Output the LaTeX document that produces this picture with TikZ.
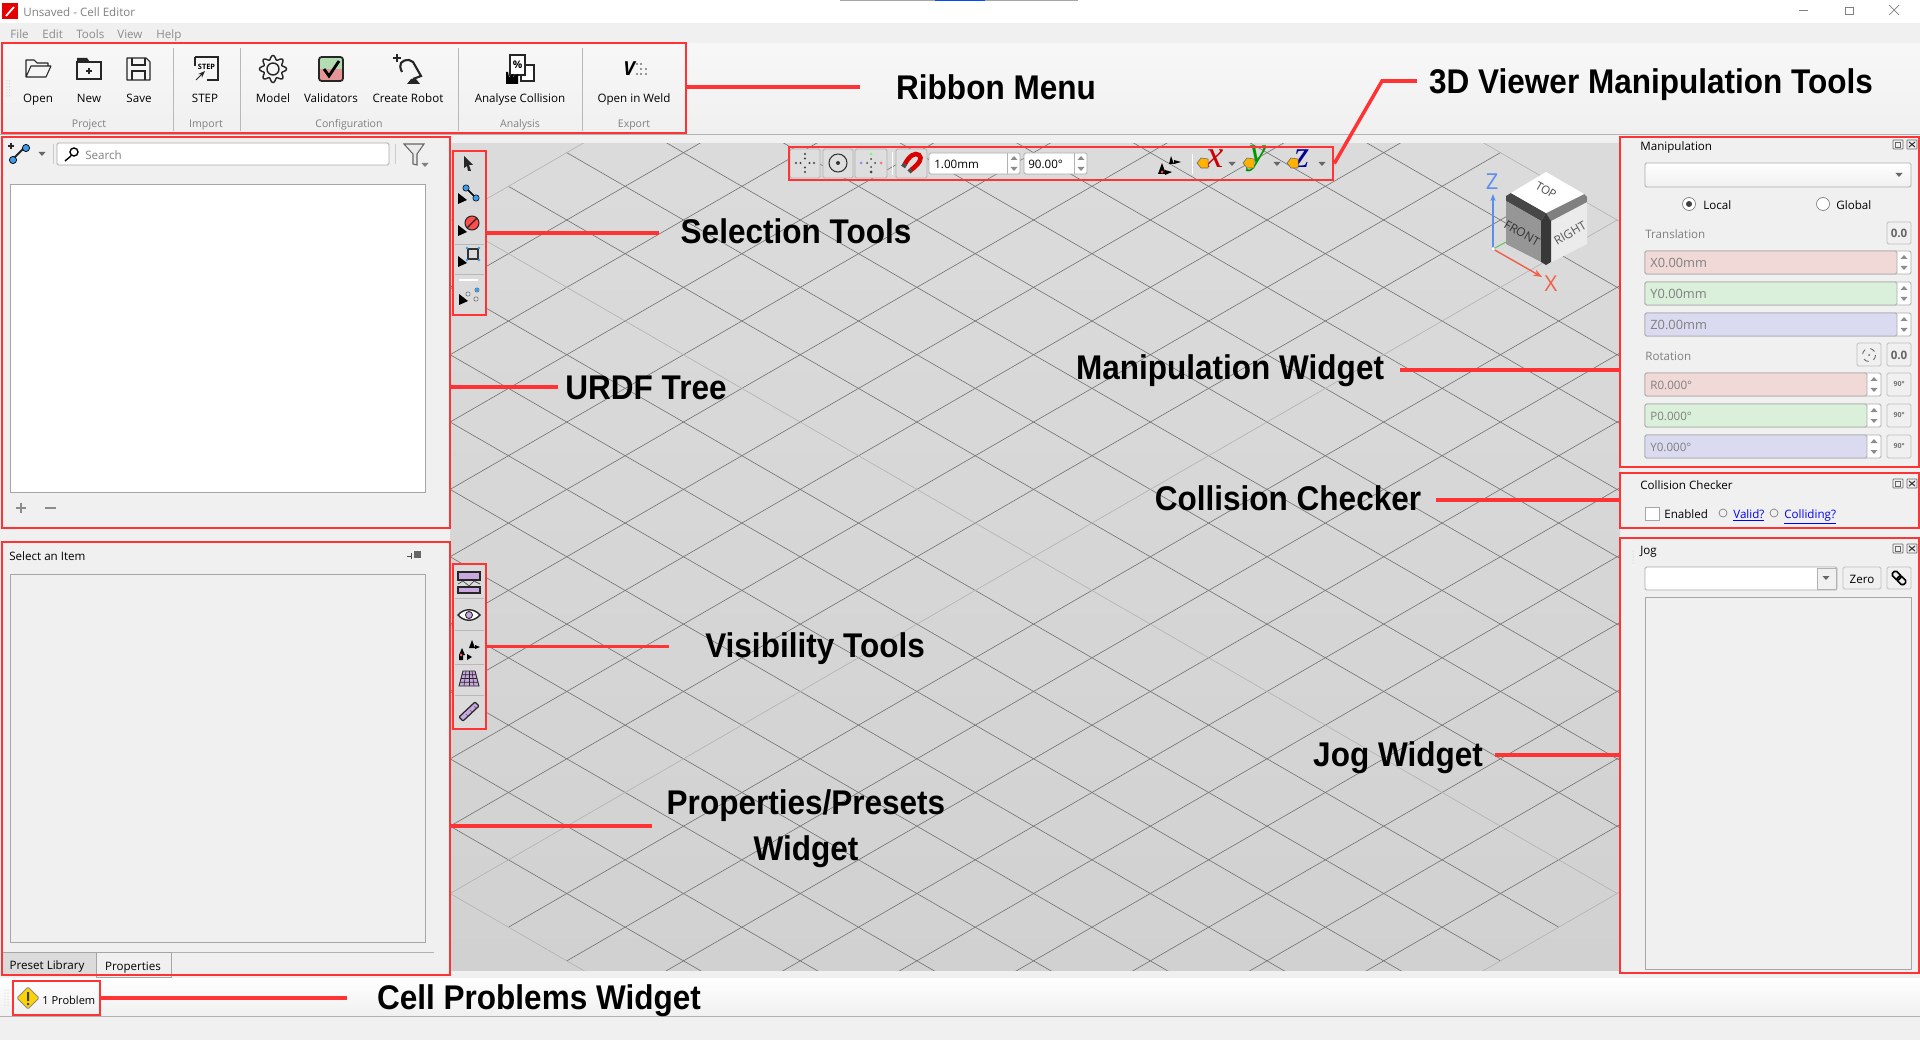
\documentclass[tikz,border=0pt]{standalone}
\usepackage{fontspec}
\setmainfont{Open Sans}
\newfontfamily\notefont[FakeStretch=0.92]{Liberation Sans}
\newfontfamily\axisfont{Liberation Serif}
\usetikzlibrary{positioning,arrows.meta,fit,calc}
\definecolor{panelbg}{HTML}{F0F0F0}
\definecolor{redmark}{HTML}{FF3333}
\definecolor{uigray}{HTML}{ABABAB}
\definecolor{dimtext}{HTML}{808080}
\definecolor{redfield}{HTML}{F0D9D7}
\definecolor{greenfield}{HTML}{DAF0DA}
\definecolor{bluefield}{HTML}{DADAF0}
\definecolor{lilac}{HTML}{C9A8E0}
\definecolor{dotblue}{HTML}{3D9BE9}
\definecolor{axisz}{HTML}{5B8DEF}
\definecolor{axisx}{HTML}{F0604A}
\newcommand{\uifont}{\fontsize{6.6}{8}\selectfont}
\newcommand{\dntip}[3][black!60]{\fill[#1] (#2-3.5,#3-2) -- (#2+3.5,#3-2) -- (#2,#3+2) -- cycle;}
\newcommand{\uptip}[3][black!45]{\fill[#1] (#2-3.5,#3+2) -- (#2+3.5,#3+2) -- (#2,#3-2) -- cycle;}
\newcommand{\cornertip}[2]{\fill[black] (#1-4,#2-7) -- (#1+5,#2) -- (#1-4,#2+4) -- cycle;}
\tikzset{
  redbox/.style={draw=redmark,line width=1.5pt,inner sep=0pt,fit={#1}},
  redline/.style={draw=redmark,line width=2pt},
  note/.style={font=\notefont\fontsize{19.5}{23}\selectfont\bfseries,inner sep=0pt,text height=14pt,text depth=0pt},
  uitext/.style={font=\uifont,inner sep=0pt,text height=4.7pt,text depth=0pt},
  uileft/.style={uitext,anchor=west},
  dimleft/.style={uileft,text=dimtext},
  field/.style={draw=uigray,line width=0.5pt,rounded corners=0.8pt},
  button/.style={draw=black!25,fill=panelbg,line width=0.5pt,rounded corners=0.8pt},
  toolbtn/.style={draw=black!30,fill=black!13,line width=0.5pt,rounded corners=0.8pt},
  icon/.style={line width=0.6pt,draw=black!85},
  gridline/.style={draw=black!55,line width=0.35pt},
  gridedge/.style={draw=black!30,line width=0.35pt}
}
\begin{document}
\begin{tikzpicture}[x=0.02cm,y=-0.02cm]
  \useasboundingbox (0,0) rectangle (1920,1040);
  \fill[panelbg] (0,0) rectangle (1920,1040);
  % window title and menu
  \fill[white] (0,0) rectangle (1920,23);
  \draw[black!35,line width=0.4pt] (840,0.5) -- (1078,0.5);
  \draw[blue!70!cyan,line width=1pt] (935,0.5) -- (985,0.5);
  \fill[red!90!black] (2,3) rectangle (18,19);
  \draw[white,line width=1pt] (6,16) -- (14,7);
  \node (title) at (23,12) [uileft,text=dimtext] {Unsaved - Cell Editor};
  \draw[black!50,line width=0.4pt] (1799,10) -- (1808,10);
  \draw[black!50,line width=0.4pt] (1845,7) rectangle (1853,14);
  \draw[black!50,line width=0.4pt] (1889,5) -- (1899,15) (1899,5) -- (1889,15);
  \foreach \mx/\mtxt in {10/File,42/Edit,76/Tools,117/View,156/Help}
    \node (menu\mtxt) at (\mx,34) [dimleft,text=black!45] {\mtxt};
  % ribbon
  \shade[top color=white!97!black,bottom color=panelbg] (0,44) rectangle (1920,133);
  \draw[black!30,line width=0.5pt] (0,134) -- (1920,134);
  \foreach \sx in {173,240,458,582}
    \draw[black!28,line width=0.5pt] (\sx,48) -- (\sx,131);
  \foreach \lx/\ltxt [count=\li] in {38/Open,89/New,139/Save,205/STEP,273/Model,331/Validators,408/Create Robot,520/Analyse Collision,634/Open in Weld}
    \node (rib\li) at (\lx,98) [uitext] {\ltxt};
  \foreach \lx/\ltxt in {89/Project,206/Import,349/Configuration,520/Analysis,634/Export}
    \node (grp\ltxt) at (\lx,123) [uitext,text=dimtext,font=\fontsize{6}{7.5}\selectfont] {\ltxt};
  \foreach \dy in {81,84,...,96} \fill[black!25] (7,\dy) circle (0.5) (9.5,\dy) circle (0.5);
  % open
  \draw[icon,line join=round] (26,77) -- (26,60) -- (34,60) -- (37,63) -- (48,63) -- (48,66) (26,77) -- (46,77) -- (51,66) -- (31,66) -- cycle;
  % new
  \draw[icon] (77,62) rectangle (101,79);
  \fill[black!85] (77,58) -- (87,58) -- (90,62) -- (77,63) -- cycle;
  \draw[icon] (86,71) -- (92,71) (89,68) -- (89,74);
  % save
  \draw[icon,line join=round] (127,58) -- (146,58) -- (150,62) -- (150,80) -- (127,80) -- cycle;
  \draw[icon] (132,58) -- (132,65) -- (145,65) -- (145,58) (132,80) -- (132,71) -- (145,71) -- (145,80);
  % step
  \draw[icon] (195,57) -- (218,57) -- (218,80) -- (207,80) (195,66) -- (195,57);
  \node (stepicon) at (206.5,67) [inner sep=0pt,font=\fontsize{4.2}{5}\selectfont\bfseries] {STEP};
  \draw[icon,-{Stealth[length=4pt]}] (196,80) -- (205,71);
  % model
  \draw[icon,line width=0.8pt] plot[domain=0:360,samples=145,smooth] ({273+(11.5+2*cos(8*\x))*cos(\x)},{69+(11.5+2*cos(8*\x))*sin(\x)}) -- cycle;
  \draw[icon,line width=0.8pt] (273,69) circle (6);
  % validators
  \fill[green!55!black!30] (319,57) rectangle (343,69);
  \fill[red!35!white!90!black] (319,69) rectangle (343,81);
  \draw[black!85,line width=1pt,rounded corners=1.5pt] (319,57) rectangle (343,81);
  \draw[black,line width=1.6pt] (324,69) -- (329,76) -- (339,61);
  % create robot
  \draw[icon,line width=0.8pt] (393,58) -- (401,58) (397,54) -- (397,62);
  \draw[icon,line width=1.2pt] (402,72) .. controls (398,64) and (401,60) .. (409,60) -- (413,62) -- (421,76) -- (413,79);
  \fill[black!85] (407,84) -- (411,79) -- (416,79) -- (420,84) -- cycle;
  % analyse collision
  \draw[icon,fill=white] (521,65) rectangle (534,81);
  \draw[icon,fill=white] (510,55) rectangle (525,75);
  \node (pcticon) at (517.5,65) [inner sep=0pt,font=\fontsize{6}{7}\selectfont\bfseries] {\%};
  \fill[black] (506,84) -- (506,72) -- (508,72) -- (509,77) -- (513,74) -- (513,77) -- (518,74) -- (518,84) -- cycle;
  % open in weld
  \node (weldicon) at (629,69) [inner sep=0pt,font=\fontsize{11}{12}\selectfont\bfseries\itshape] {V};
  \foreach \wx/\wy in {637/64,641/64,641/69,646/69,637/74,641/74,646/74}
    \fill[black!80] (\wx,\wy) circle (0.9);
  % urdf tree panel
  \draw[icon,line width=1.2pt] (12,160) -- (24,148);
  \fill[dotblue,draw=black] (13,160) circle (3.6) (26,148) circle (3.6);
  \draw[icon,line width=0.7pt] (8,146) -- (14,146) (11,143) -- (11,149);
  \dntip{42}{154}
  \draw[black!20,line width=0.5pt] (53,144) -- (53,164) (395,144) -- (395,164);
  \draw[field,fill=white] (57,143) rectangle (389,165);
  \draw[black,line width=0.8pt] (74,152) circle (4) (71,156) -- (65,161);
  \node (searchtxt) at (85,155) [dimleft] {Search};
  \draw[black!60,fill=black!8,line width=0.6pt] (404,144) -- (424,144) -- (417,154) -- (417,165) -- (413,164) -- (413,154) -- cycle;
  \dntip[black!50]{425}{165}
  \draw[draw=black!35,fill=white,line width=0.5pt] (10,184) rectangle (425,492);
  \draw[black!45,line width=1pt] (16,508) -- (26,508) (21,503) -- (21,513) (45,508) -- (56,508);
  % properties panel
  \node (selecttxt) at (9,556) [uileft] {Select an Item};
  \draw[black!70,line width=0.5pt] (407,556) -- (412,556) (411,553) -- (411,559);
  \fill[black!60] (414,551) rectangle (421,558);
  \draw[draw=black!35,fill=panelbg,line width=0.5pt] (10,574) rectangle (425,942);
  \draw[black!30,line width=0.5pt] (171,952) -- (434,952);
  \draw[draw=black!35,fill=black!14,line width=0.4pt] (2,975) -- (2,952) -- (96,952) -- (96,975);
  \draw[draw=black!35,fill=panelbg,line width=0.4pt] (96,977) -- (96,952) -- (171,952) -- (171,977) -- cycle;
  \node (presettab) at (47,965) [uitext] {Preset Library};
  \node (proptab) at (133,966) [uitext] {Properties};
  % status bar
  \shade[top color=white,bottom color=panelbg] (0,978) rectangle (1920,1016);
  \draw[black!30,line width=0.5pt] (0,1016) -- (1920,1016);
  \foreach \dy in {990,993,...,1005} \fill[black!25] (5,\dy) circle (0.5) (8,\dy) circle (0.5);
  \draw[draw=black!45,fill=yellow!70!orange,line width=0.5pt,rounded corners=0.6pt] (28,987) -- (39,998) -- (28,1009) -- (17,998) -- cycle;
  \fill[black!75] (27,992) rectangle (29,1001) (27,1003) rectangle (29,1005);
  \node (problemtxt) at (42,1000) [uileft,font=\fontsize{6.3}{8}\selectfont] {1 Problem};
  % 3d viewer
  \shade[top color=black!14,bottom color=black!18] (450,144) rectangle (1620,970);
  \begin{scope}
    \clip (450,144) rectangle (1620,970);
    \foreach \n in {-2,-1,...,6,8,9,...,16}
      \draw[gridline] ({1267+(-7-\n)*58.35},{220+(\n-7)*33.675}) -- ({1267+(13-\n)*58.35},{220+(\n+13)*33.675});
    \foreach \n in {-6,-5,...,2,4,5,...,12}
      \draw[gridline] ({1267+(\n+3)*58.35},{220+(\n-3)*33.675}) -- ({1267+(\n-17)*58.35},{220+(\n+17)*33.675});
    \foreach \n in {-3,7,17}
      \draw[gridedge] ({1267+(-7-\n)*58.35},{220+(\n-7)*33.675}) -- ({1267+(13-\n)*58.35},{220+(\n+13)*33.675});
    \foreach \n in {-7,3,13}
      \draw[gridedge] ({1267+(\n+3)*58.35},{220+(\n-3)*33.675}) -- ({1267+(\n-17)*58.35},{220+(\n+17)*33.675});
  \end{scope}
  % viewer toolbar
  \foreach \tx/\tw in {790/30,823/30,855/32,896/31}
    \draw[toolbtn] (\tx,149) rectangle ++(\tw,29);
  \foreach \ang in {0,90,180,270} {
    \fill[black!75] ($(805,163)+(\ang:4.5)$) circle (1.1);
    \fill[black!75] ($(805,163)+(\ang:9)$) circle (1.1);
  }
  \draw[black!80,line width=0.6pt] (838,163) circle (9);
  \fill[black!80] (838,163) circle (2);
  \fill[green!55] (871,154) circle (1.5);
  \fill[black!75] (871,159) circle (1) (871,167) circle (1) (867,163) circle (1) (875,163) circle (1) (871,172) circle (1.5);
  \fill[blue!45] (861,163) circle (1.5);
  \fill[red!55] (881,163) circle (1.5);
  \draw[white,line width=0.5pt] (892,152) -- (892,175);
  \draw[red!85!black,line width=2.6pt] (905,164) .. controls (909,156) and (915,152) .. (919,155) .. controls (923,158) and (919,164) .. (911,170);
  \draw[black!70,line width=2.6pt] (903,167) -- (905,164) (909,172) -- (911,170);
  \draw[field,fill=white] (929,153) rectangle (1020,174);
  \draw[field,fill=white] (1024,153) rectangle (1087,174);
  \draw[black!30,line width=0.4pt] (1007,153) -- (1007,174) (1074,153) -- (1074,174);
  \foreach \ax in {1014,1081} {
    \uptip{\ax}{158}
    \dntip[black!45]{\ax}{169}
  }
  \node (stepval) at (934,164) [uileft] {1.00mm};
  \node (angval) at (1028,164) [uileft] {90.00°};
  \fill[black] (1158,174) -- (1162,163) -- (1166,174) -- cycle (1165,170) -- (1172,172) -- (1165,175) -- cycle (1171,156) -- (1174,164) -- (1169,164) -- cycle (1174,160) -- (1181,162) -- (1174,164) -- cycle;
  \fill[red!70] (1162,172) circle (1.5);
  \draw[white,line width=0.5pt] (1192,154) -- (1192,174);
  \foreach \hx/\gx/\ilt/\ic in {1204/1215/x/red!80!black,1250/1258/y/green!60!black,1294/1302/z/blue!60!black} {
    \node (ax\ilt) at (\gx,159) [inner sep=0pt,text=\ic,font=\axisfont\fontsize{22}{22}\selectfont\itshape] {\ilt};
    \fill[orange!60!yellow,draw=black!60,line width=0.3pt] (\hx-7,163) -- (\hx-3,158) -- (\hx+4,159) -- (\hx+4,168) -- (\hx-3,168) -- cycle;
  }
  \dntip{1232}{164}
  \dntip{1277}{164}
  \dntip{1322}{164}
  % view cube
  \fill[black!8] (1546,172) -- (1587,197) -- (1587,244) -- (1546,265) -- (1506,244) -- (1506,196) -- cycle;
  \fill[black!72] (1511,193) -- (1546,213) -- (1541,221) -- (1506,201) -- (1506,196) -- cycle;
  \fill[black!50] (1584,194) -- (1546,213) -- (1551,221) -- (1587,202) -- (1587,197) -- cycle;
  \fill[black!41] (1506,201) -- (1541,221) -- (1541,262) -- (1506,244) -- cycle;
  \fill[black!78] (1541,221) -- (1546,213) -- (1551,221) -- (1551,262) -- (1546,265) -- (1541,262) -- cycle;
  \fill[white] (1546,172) -- (1584,194) -- (1546,213) -- (1511,193) -- cycle;
  \node (cubetop) at (1546,190) [rotate=-30,inner sep=0pt,text=black!70,font=\fontsize{6.5}{8}\selectfont] {TOP};
  \node (cubefront) at (1522,233) [rotate=-30,inner sep=0pt,text=black!80,font=\fontsize{6.8}{8}\selectfont] {FRONT};
  \node (cuberight) at (1570,233) [rotate=30,inner sep=0pt,text=black!65,font=\fontsize{6.8}{8}\selectfont] {RIGHT};
  \coordinate (origin) at (1493,249);
  \coordinate (zend) at (1493,194);
  \coordinate (xend) at (1542,277);
  \coordinate (yend) at (1506,242);
  \draw[-{Stealth[length=4pt]},axisz,line width=0.7pt] (origin) -- (zend);
  \draw[-{Stealth[length=5pt]},axisx,line width=0.8pt] (origin) -- (xend);
  \draw[green!60!black!60,line width=0.6pt] (origin) -- (yend);
  \fill[white,draw=black!25,line width=0.3pt] (origin) circle (2);
  \node (zlabel) at (1492,182) [inner sep=0pt,text=axisz,font=\fontsize{12.5}{14}\selectfont] {Z};
  \node (xlabel) at (1551,284) [inner sep=0pt,text=axisx,font=\fontsize{12.5}{14}\selectfont] {X};
  % selection tools
  \fill[black!14] (454,152) rectangle (485,314);
  \draw[black!28,line width=0.4pt] (455,244) -- (484,244) (455,274) -- (484,274);
  \draw[white,line width=0.6pt] (459,280) -- (478,280);
  \fill[black!85] (464,156) -- (473,165) -- (469,165) -- (471,171) -- (468,171) -- (467,166) -- (464,168) -- cycle;
  \draw[black,line width=0.9pt] (466,188) -- (476,198);
  \fill[dotblue,draw=black,line width=0.3pt] (466,188) circle (3.2) (476,198) circle (3.2);
  \cornertip{462}{200}
  \fill[red!70,draw=black!85,line width=0.6pt] (472,223) circle (7);
  \draw[black!85,line width=0.8pt] (467,228) -- (477,218);
  \cornertip{462}{232}
  \draw[black!80,line width=0.7pt] (468,249) rectangle (478,259);
  \foreach \qx/\qy in {467/248,479/248,467/260,479/260}
    \fill[dotblue] (\qx,\qy) circle (1.4);
  \cornertip{462}{263}
  \foreach \qx/\qy in {468/294,477/290,476/299}
    \fill[black!12,draw=black!60,line width=0.3pt] (\qx,\qy) circle (2.2);
  \fill[dotblue] (477,290) circle (2);
  \cornertip{463}{301}
  % visibility tools
  \fill[black!14] (454,565) rectangle (485,728);
  \draw[black!28,line width=0.4pt] (455,598) -- (484,598) (455,630) -- (484,630) (455,664) -- (484,664) (455,695) -- (484,695);
  \draw[black!85,fill=lilac,line width=0.7pt] (458,572) rectangle (480,580) (458,587) rectangle (480,593);
  \draw[black!70,line width=0.4pt] (458,584) -- (463,581) -- (469,586) -- (474,581) -- (480,584);
  \draw[black!85,fill=white,line width=0.8pt] (458,615) .. controls (464,608) and (474,608) .. (480,615) .. controls (474,622) and (464,622) .. cycle;
  \fill[lilac,draw=black!85,line width=0.5pt] (469,615) circle (3.5);
  \fill[black] (462,648) -- (465,655) -- (459,655) -- cycle (467,654) -- (472,657) -- (467,660) -- cycle (459,655) rectangle (463,660);
  \fill[red!65] (461,655) circle (1.5);
  \fill[black] (472,640) -- (475,648) -- (469,648) -- cycle (475,645) -- (480,647) -- (475,649) -- cycle;
  \draw[black!85,fill=lilac,line width=0.5pt] (463,671) -- (475,671) -- (479,686) -- (459,686) -- cycle;
  \foreach \gr in {0.25,0.5,0.75}
    \draw[black!85,line width=0.35pt] ($(463,671)!\gr!(475,671)$) -- ($(459,686)!\gr!(479,686)$) ($(463,671)!\gr!(459,686)$) -- ($(475,671)!\gr!(479,686)$);
  \draw[black!85,fill=lilac,line width=0.7pt,rounded corners=0.5pt] (459,717) -- (475,702) -- (479,706) -- (463,721) -- cycle;
  \draw[black!60,line width=0.3pt] (466,714) -- (468,716) (470,710) -- (472,712) (474,706) -- (476,708);
  % manipulation widget
  \foreach \bx in {1893,1907}
    \draw[black!60,line width=0.4pt,rounded corners=0.4pt] (\bx,140) rectangle ++(10,9);
  \draw[black!60,line width=0.3pt] (1895,142) rectangle (1900,147);
  \draw[black!80,line width=0.6pt] (1909,142) -- (1915,147) (1915,142) -- (1909,147);
  \node (maniptitle) at (1640,146) [uileft] {Manipulation};
  \shade[top color=white,bottom color=panelbg,rounded corners=0.8pt] (1645,163) rectangle (1911,187);
  \draw[field] (1645,163) rectangle (1911,187);
  \dntip{1899}{175}
  \draw[draw=black!50,fill=white,line width=0.4pt] (1689,204) circle (6.5);
  \fill[black!75] (1689,204) circle (3);
  \draw[draw=black!50,fill=white,line width=0.4pt] (1823,204) circle (6.5);
  \node (localtxt) at (1703,205) [uileft] {Local};
  \node (globaltxt) at (1836,205) [uileft] {Global};
  \node (transtxt) at (1645,234) [dimleft] {Translation};
  \node (rottxt) at (1645,356) [dimleft] {Rotation};
  \draw[button] (1887,222) rectangle (1911,244);
  \draw[button] (1857,343) rectangle (1881,366);
  \draw[button] (1887,343) rectangle (1911,366);
  \node (tzero) at (1899,233) [uitext,text=black!60,font=\uifont\bfseries] {0.0};
  \node (rzero) at (1899,355) [uitext,text=black!60,font=\uifont\bfseries] {0.0};
  \draw[black!60,line width=0.5pt,dashed] (1869,355) circle (6.5);
  \fill[black!60] (1869,355) circle (1);
  \foreach \ty/\ttxt/\tc in {251/X0.00mm/redfield,282/Y0.00mm/greenfield,313/Z0.00mm/bluefield} {
    \draw[field,fill=white] (1645,\ty) rectangle ++(266,23);
    \draw[field,fill=\tc] (1645,\ty) rectangle ++(252,23);
    \node (fld\ttxt) at (1650,\ty+12) [dimleft,font=\fontsize{7.3}{8}\selectfont] {\ttxt};
    \uptip{1904}{\ty+6}
    \dntip[black!45]{1904}{\ty+17}
  }
  \foreach \ty/\ttxt/\tc [count=\rn] in {373/R0.000°/redfield,404/P0.000°/greenfield,435/Y0.000°/bluefield} {
    \draw[field,fill=white] (1645,\ty) rectangle ++(236,23);
    \draw[field,fill=\tc] (1645,\ty) rectangle ++(222,23);
    \node (rot\rn) at (1650,\ty+12) [dimleft] {\ttxt};
    \uptip{1874}{\ty+6}
    \dntip[black!45]{1874}{\ty+17}
    \draw[button] (1887,\ty) rectangle ++(24,23);
    \node (turn\rn) at (1899,\ty+11) [inner sep=0pt,text=black!55,font=\fontsize{4}{5}\selectfont\bfseries] {90°};
  }
  % collision checker
  \foreach \bx in {1893,1907}
    \draw[black!60,line width=0.4pt,rounded corners=0.4pt] (\bx,479) rectangle ++(10,9);
  \draw[black!60,line width=0.3pt] (1895,481) rectangle (1900,486);
  \draw[black!80,line width=0.6pt] (1909,481) -- (1915,486) (1915,481) -- (1909,486);
  \node (colltitle) at (1640,485) [uileft] {Collision Checker};
  \draw[draw=black!35,fill=white,line width=0.4pt] (1645,507) rectangle (1659,520);
  \node (enabledtxt) at (1664,514) [uileft] {Enabled};
  \draw[draw=black!50,fill=panelbg,line width=0.4pt] (1723,513) circle (4) (1774,513) circle (4);
  \node (validtxt) at (1733,514) [uileft,text=blue] {\underline{Valid?}};
  \node (colltxt) at (1784,514) [uileft,text=blue] {\underline{Colliding?}};
  % jog widget
  \foreach \bx in {1893,1907}
    \draw[black!60,line width=0.4pt,rounded corners=0.4pt] (\bx,544) rectangle ++(10,9);
  \draw[black!60,line width=0.3pt] (1895,546) rectangle (1900,551);
  \draw[black!80,line width=0.6pt] (1909,546) -- (1915,551) (1915,546) -- (1909,551);
  \foreach \dy in {551,554,...,565} \fill[black!25] (1633,\dy) circle (0.5);
  \node (jogtitle) at (1640,550) [uileft] {Jog};
  \draw[field,fill=white] (1645,567) rectangle (1837,590);
  \draw[black!30,fill=panelbg,line width=0.4pt] (1817,568) rectangle (1836.5,589.5);
  \dntip{1826}{578}
  \draw[button] (1843,567) rectangle (1881,589);
  \node (zerotxt) at (1862,579) [uitext] {Zero};
  \draw[button] (1887,567) rectangle (1911,589);
  \draw[black,line width=0.9pt,rounded corners=1pt,rotate around={-45:(1899,578)}] (1891,575) rectangle (1900,581) (1898,575) rectangle (1907,581);
  \draw[draw=black!35,fill=panelbg,line width=0.5pt] (1645,597) rectangle (1911,969);
  % red marks around the areas
  \node (ribbonbox) [redbox={(2,43)(686,133)}] {};
  \node (toolsbox) [redbox={(789,147)(1333,180)}] {};
  \node (treebox) [redbox={(2,137)(450,528)}] {};
  \node (selectbox) [redbox={(453,151)(486,315)}] {};
  \node (visibox) [redbox={(453,564)(486,729)}] {};
  \node (propsbox) [redbox={(2,542)(450,975)}] {};
  \node (cellbox) [redbox={(13,981)(100,1015)}] {};
  \node (manipbox) [redbox={(1620,137)(1919,467)}] {};
  \node (collbox) [redbox={(1620,473)(1919,528)}] {};
  \node (jogbox) [redbox={(1620,538)(1919,973)}] {};
  % names of the areas
  \node (ribbonlab) at (996,87) [note] {Ribbon Menu};
  \node (toolslab) at (1651,81) [note] {3D Viewer Manipulation Tools};
  \node (selectlab) at (796,231) [note] {Selection Tools};
  \node (treelab) at (646,387) [note] {URDF Tree};
  \node (manipslab) at (1230,367) [note] {Manipulation Widget};
  \node (colllab) at (1288,498) [note] {Collision Checker};
  \node (visilab) at (815,645) [note] {Visibility Tools};
  \node (joglab) at (1398,754) [note] {Jog Widget};
  \node (propslab) at (806,802) [note] {Properties/Presets};
  \node (widgetlab) at (806,848) [note] {Widget};
  \node (celllab) at (539,997) [note] {Cell Problems Widget};
  \coordinate (toolselbow) at (1382,81);
  \draw[redline] (ribbonbox.east |- ribbonlab) -- ($(ribbonlab.west)+(-36,0)$);
  \draw[redline] (toolsbox.east) -- (toolselbow) -- ($(toolslab.west)+(-12,0)$);
  \draw[redline] (selectbox.east) -- ($(selectbox.east -| selectlab.west)+(-21,0)$);
  \draw[redline] (treebox.east |- treelab) -- ($(treelab.west)+(-7,0)$);
  \draw[redline] (visibox.east) -- ($(visibox.east -| visilab.west)+(-36,0)$);
  \draw[redline] ($(propsbox.east |- propslab)+(0,24)$) -- ($(propslab.west)+(-14,24)$);
  \draw[redline] (cellbox.east) -- ($(cellbox.east -| celllab.west)+(-30,0)$);
  \draw[redline] ($(manipslab.east)+(16,3)$) -- ($(manipbox.west |- manipslab)+(0,3)$);
  \draw[redline] ($(colllab.east)+(15,2)$) -- ($(collbox.west |- colllab)+(0,2)$);
  \draw[redline] ($(joglab.east)+(12,1)$) -- ($(jogbox.west |- joglab)+(0,1)$);
\end{tikzpicture}
\end{document}
